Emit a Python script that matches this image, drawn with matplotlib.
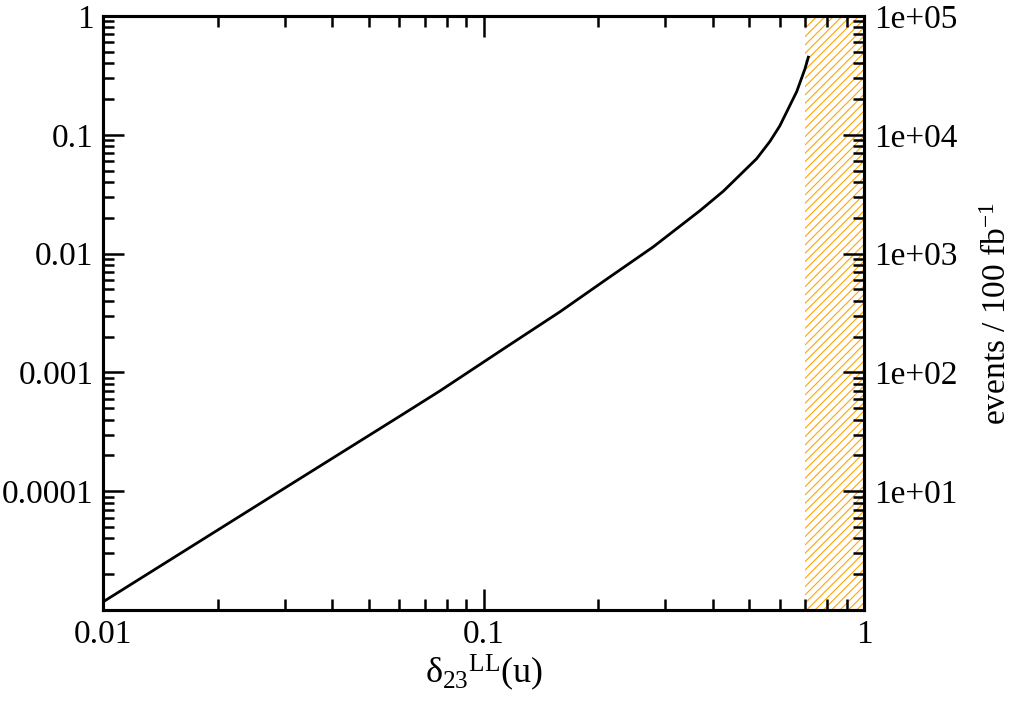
import numpy as np
import matplotlib
matplotlib.use('Agg')
import matplotlib.pyplot as plt
from matplotlib.ticker import FixedLocator, FixedFormatter, LogLocator, NullFormatter

plt.rcParams['font.family'] = ['Liberation Serif', 'DejaVu Serif']
plt.rcParams['mathtext.fontset'] = 'custom'
plt.rcParams['mathtext.rm'] = 'Liberation Serif'
plt.rcParams['mathtext.it'] = 'Liberation Serif:italic'
plt.rcParams['hatch.linewidth'] = 0.8

# curve
delta = [0.01, 0.02, 0.03, 0.0604, 0.0769, 0.1151, 0.1589, 0.2108, 0.2794,
         0.3707, 0.4268, 0.5224, 0.566, 0.6006, 0.6657, 0.6998, 0.714]
ratio = [1.17e-5, 4.7e-5, 1.06e-4, 4.3e-4, 7.0e-4, 1.645e-3, 3.24e-3, 6.1e-3,
         1.14e-2, 2.3e-2, 3.35e-2, 6.3e-2, 8.8e-2, 0.1186, 0.2314, 0.36,
         0.45]
excluded = (0.7, 1.0)

xticks = [0.01, 0.1, 1]
xlabels = ['0.01', '0.1', '1']
yticks = [1e-4, 1e-3, 1e-2, 1e-1, 1]
ylabels = ['0.0001', '0.001', '0.01', '0.1', '1']
rticks = [1e1, 1e2, 1e3, 1e4, 1e5]
rlabels = ['1e+01', '1e+02', '1e+03', '1e+04', '1e+05']

fig = plt.figure(figsize=(10.11, 7.07), dpi=100)
ax = fig.add_axes([0.1019, 0.1372, 0.7527, 0.8402])

ax.axvspan(excluded[0], excluded[1], facecolor='none', edgecolor='#ffa500',
           hatch='////', linewidth=0)
ax.plot(delta, ratio, color='black', lw=2.0)

ax.set_xscale('log')
ax.set_yscale('log')
ax.set_xlim(0.01, 1)
ax.set_ylim(1e-5, 1)

ax.xaxis.set_major_locator(FixedLocator(xticks))
ax.xaxis.set_major_formatter(FixedFormatter(xlabels))
ax.xaxis.set_minor_locator(LogLocator(base=10, subs=np.arange(2, 10)))
ax.xaxis.set_minor_formatter(NullFormatter())
ax.yaxis.set_major_locator(FixedLocator(yticks))
ax.yaxis.set_major_formatter(FixedFormatter(ylabels))
ax.yaxis.set_minor_locator(LogLocator(base=10, subs=np.arange(2, 10)))
ax.yaxis.set_minor_formatter(NullFormatter())

ax.tick_params(which='both', direction='in', top=True, right=False, width=1.8,
               labelsize=24, pad=7)
ax.tick_params(which='major', length=15)
ax.tick_params(which='minor', length=8)

ax2 = ax.twinx()
ax2.set_yscale('log')
ax2.set_ylim(1, 1e5)
ax2.yaxis.set_major_locator(FixedLocator(rticks))
ax2.yaxis.set_major_formatter(FixedFormatter(rlabels))
ax2.yaxis.set_minor_locator(LogLocator(base=10, subs=np.arange(2, 10)))
ax2.yaxis.set_minor_formatter(NullFormatter())
ax2.tick_params(which='both', direction='in', width=1.8, labelsize=24, pad=7)
ax2.tick_params(which='major', length=15)
ax2.tick_params(which='minor', length=8)

for a in (ax, ax2):
    for s in a.spines.values():
        s.set_linewidth(2.2)

ax.set_xlabel('δ$_{23}$$^{\\mathrm{LL}}$(u)', fontsize=26, labelpad=2)
ax2.set_ylabel('events / 100 fb$^{\\mathrm{-1}}$', fontsize=24, labelpad=18)

fig.savefig('out.png', dpi=100)
